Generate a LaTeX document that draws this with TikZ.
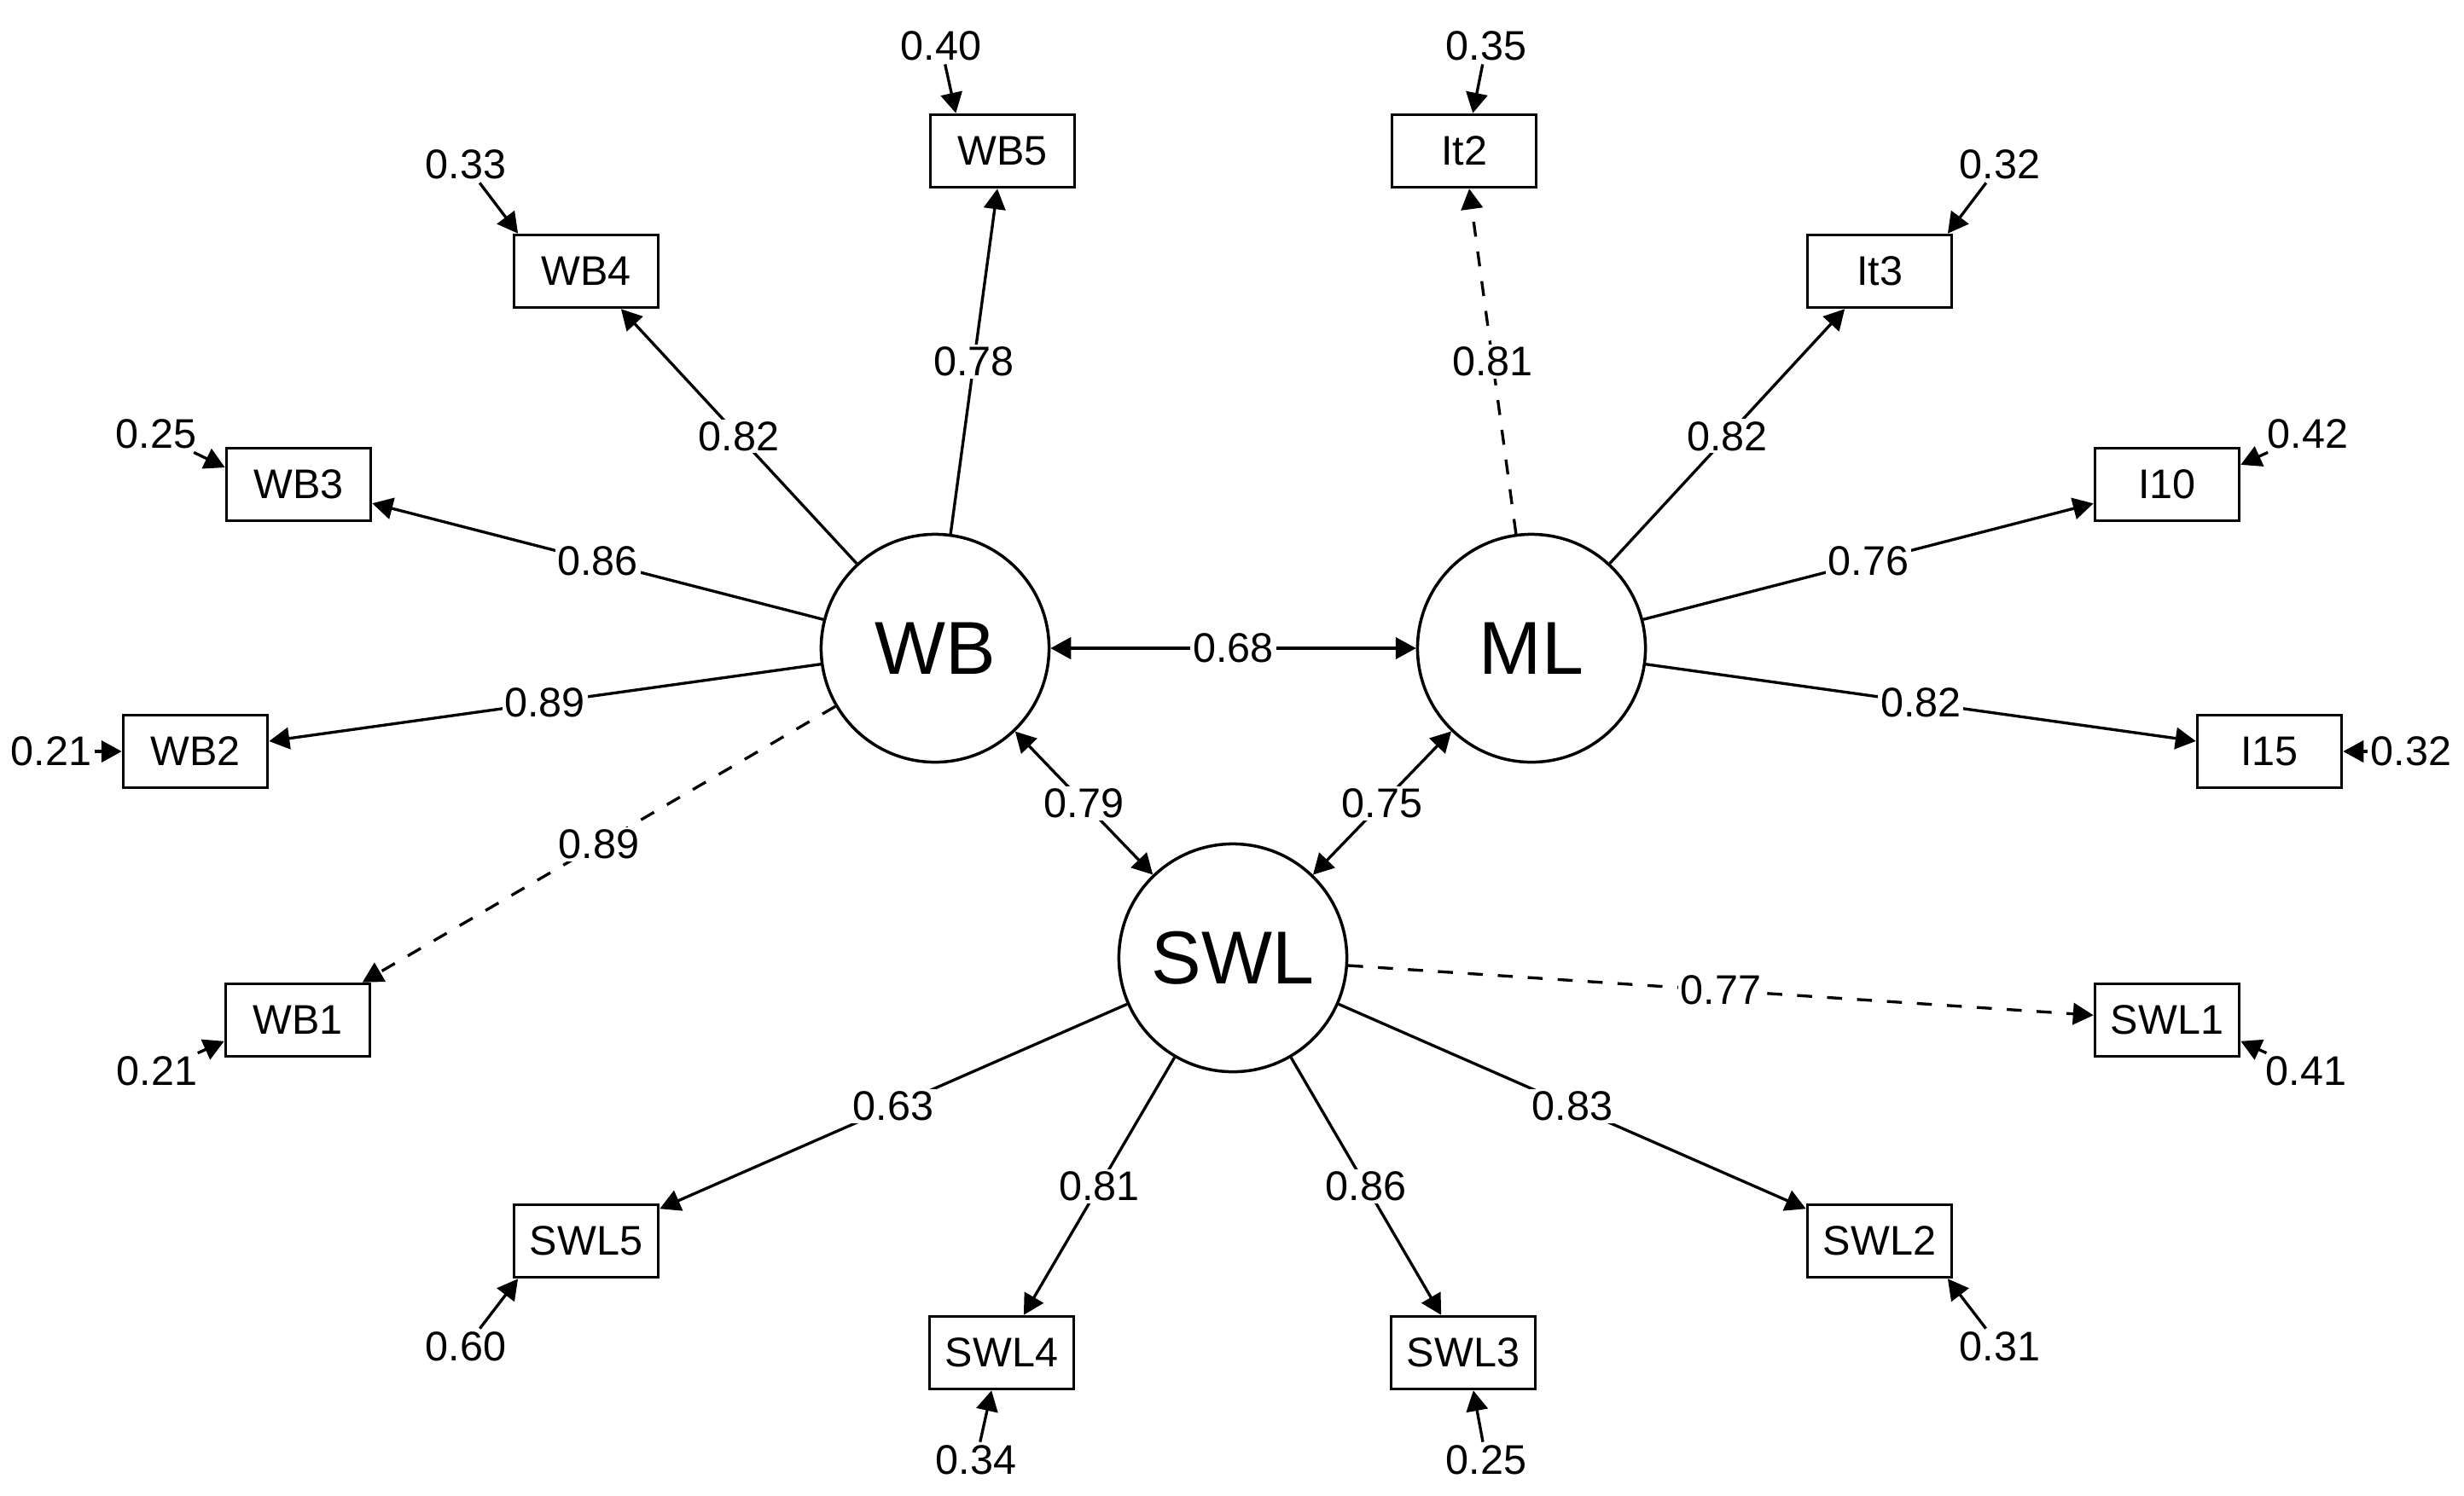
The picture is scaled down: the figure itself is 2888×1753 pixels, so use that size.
\documentclass[tikz,border=0pt]{standalone}
\usepackage{fontspec}
\setmainfont{Liberation Sans}
\usetikzlibrary{arrows.meta}

\begin{document}
\begin{tikzpicture}[x=0.01cm,y=-0.01cm,
        lat/.style={draw,circle,line width=1pt,minimum size=2.67cm,inner sep=0pt,font=\fontsize{25}{29}\selectfont},
        obs/.style={draw,rectangle,line width=1pt,minimum width=1.69cm,minimum height=0.85cm,inner sep=0pt,font=\fontsize{13.8}{16}\selectfont},
        err/.style={inner sep=1pt,font=\fontsize{13.8}{16}\selectfont},
        load/.style={fill=white,inner sep=0.8pt,font=\fontsize{13.8}{16}\selectfont},
        lnk/.style={line width=0.95pt,-{Triangle[length=6.8pt,width=7.2pt]}},
        cov/.style={line width=0.95pt,{Triangle[length=6.8pt,width=7.2pt]}-{Triangle[length=6.8pt,width=7.2pt]}},
        fix/.style={dash pattern=on 5pt off 5pt}]
        \useasboundingbox (0,0) rectangle (2888,1753);

        % latent variables
        \node[lat] (wb) at (1096,760) {WB};
        \node[lat] (ml) at (1795,760) {ML};
        \node[lat] (swl) at (1445,1123) {SWL};

        % indicators
        \foreach \n/\x/\y/\t in {wb5/1175/177/WB5, wb4/687/318/WB4, wb3/350/568/WB3, wb2/229/881/WB2, wb1/349/1196/WB1,
                it2/1716/177/It2, it3/2203/318/It3, i10/2540/568/I10, i15/2660/881/I15,
                swl1/2540/1196/SWL1, swl2/2203/1455/SWL2, swl3/1715/1586/SWL3, swl4/1174/1586/SWL4, swl5/687/1455/SWL5}
            \node[obs] (\n) at (\x,\y) {\t};

        % loadings
        \foreach \a/\b/\v/\s in {wb/wb5/0.78/solid, wb/wb4/0.82/solid, wb/wb3/0.86/solid, wb/wb2/0.89/solid, wb/wb1/0.89/fix,
                ml/it2/0.81/fix, ml/it3/0.82/solid, ml/i10/0.76/solid, ml/i15/0.82/solid,
                swl/swl1/0.77/fix, swl/swl2/0.83/solid, swl/swl3/0.86/solid, swl/swl4/0.81/solid, swl/swl5/0.63/solid}
            \draw[lnk,\s] (\a) -- node[load] {\v} (\b);

        % covariances
        \draw[cov] (wb) -- node[load] {0.68} (ml);
        \draw[cov] (wb) -- node[load] {0.79} (swl);
        \draw[cov] (ml) -- node[load] {0.75} (swl);

        % residuals
        \foreach \n/\x/\y/\v/\g in {wb5/1103/54/0.40/141, wb4/546/193/0.33/151, wb3/183/509/0.25/167, wb2/60/881/0.21/180, wb1/184/1256/0.21/196,
                it2/1742/54/0.35/77, it3/2344/193/0.32/29, i10/2705/509/0.42/15, i15/2826/881/0.32/0,
                swl1/2703/1256/0.41/344, swl2/2344/1579/0.31/331, swl3/1742/1712/0.25/285, swl4/1144/1712/0.34/255, swl5/546/1579/0.60/209}
            {
            \node[err] (e\n) at (\x,\y) {\v};
            \draw[lnk] (e\n) -- (\n.\g);
            }
    \end{tikzpicture}
\end{document}
